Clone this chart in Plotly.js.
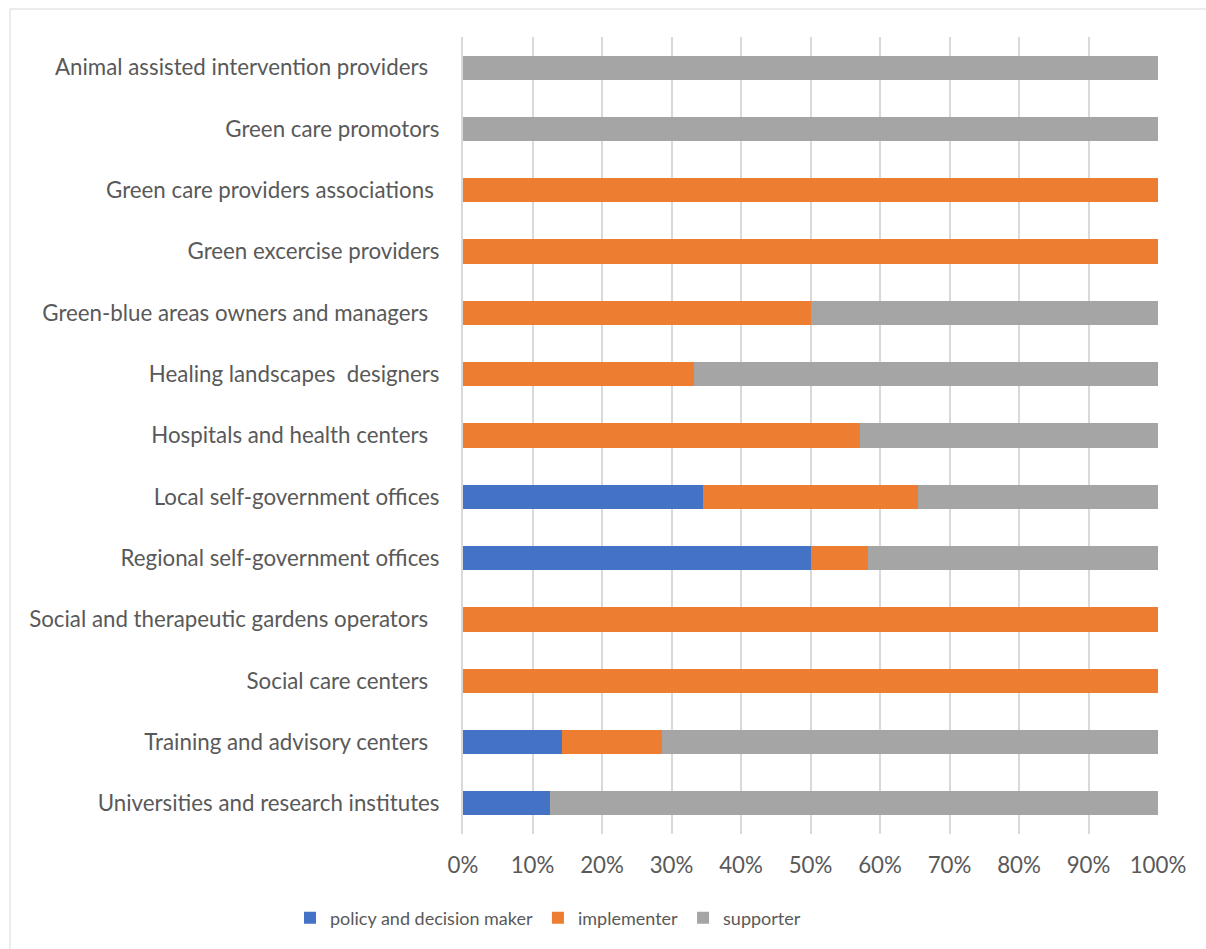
<!DOCTYPE html>
<html>
<head>
<meta charset="utf-8">
<script src="https://cdn.plot.ly/plotly-3.0.1.min.js"></script>
<style>
  html, body { margin: 0; padding: 0; background: #ffffff; }
  #chart { width: 1206px; height: 949px; }
</style>
</head>
<body>
<div id="chart"></div>
<script>
// Categories, top to bottom
const categories = [
  "Animal assisted intervention providers\u00a0\u00a0",
  "Green care promotors",
  "Green care providers associations\u00a0",
  "Green excercise providers",
  "Green-blue areas owners and managers\u00a0\u00a0",
  "Healing landscapes\u00a0\u00a0designers",
  "Hospitals and health centers\u00a0\u00a0",
  "Local self-government offices",
  "Regional self-government offices",
  "Social and therapeutic gardens operators\u00a0\u00a0",
  "Social care centers\u00a0\u00a0",
  "Training and advisory centers\u00a0\u00a0",
  "Universities and research institutes"
];

// Shares (%) per role
const policyDecisionMaker = [0, 0, 0, 0, 0, 0, 0, 34.6, 50.0, 0, 0, 14.3, 12.5];
const implementer         = [0, 0, 100, 100, 50.0, 33.3, 57.1, 30.8, 8.3, 100, 100, 14.3, 0];
const supporter           = [100, 100, 0, 0, 50.0, 66.7, 42.9, 34.6, 41.7, 0, 0, 71.4, 87.5];

const seriesNames = ["policy and decision maker", "implementer", "supporter"];
const tickValues = [0, 10, 20, 30, 40, 50, 60, 70, 80, 90, 100];

const colors = ["#4472C4", "#ED7D31", "#A5A5A5"];
const seriesValues = [policyDecisionMaker, implementer, supporter];

const traces = seriesValues.map((vals, i) => ({
  type: "bar",
  orientation: "h",
  name: seriesNames[i],
  y: categories,
  x: vals,
  marker: { color: colors[i], line: { width: 0 } },
  hoverinfo: "x+y+name"
}));

const textColor = "#595959";
const fontFamily = "Lato, 'Noto Sans', sans-serif";

// pixel helpers for the border frame (paper coords)
const L = 463, R = 48, T = 37, B = 115, W = 1206, H = 949;
const pw = W - L - R, ph = H - T - B;
const px = v => (v - L) / pw;
const py = v => (H - B - v) / ph;

const layout = {
  width: W,
  height: H,
  margin: { l: L, r: R, t: T, b: B, pad: 0 },
  barmode: "stack",
  bargap: 0.605,
  paper_bgcolor: "#ffffff",
  plot_bgcolor: "#ffffff",
  font: { family: fontFamily, size: 22.3, color: textColor },
  showlegend: true,
  legend: {
    orientation: "h",
    x: px(290),
    xanchor: "left",
    y: py(918),
    yanchor: "middle",
    font: { family: fontFamily, size: 18, color: textColor },
    traceorder: "normal",
    itemclick: false
  },
  xaxis: {
    range: [0, 100],
    tickvals: tickValues,
    ticktext: tickValues.map(v => v + "%"),
    showgrid: true,
    gridcolor: "#d9d9d9",
    gridwidth: 2,
    zeroline: false,
    showline: false,
    ticks: "",
    ticklabelstandoff: 16,
    tickfont: { family: fontFamily, size: 22.3, color: textColor },
    fixedrange: true
  },
  yaxis: {
    type: "category",
    categoryorder: "array",
    categoryarray: categories,
    autorange: "reversed",
    showgrid: false,
    zeroline: false,
    showline: true,
    linecolor: "#d9d9d9",
    linewidth: 2,
    ticks: "",
    ticklabelstandoff: 17,
    tickfont: { family: fontFamily, size: 22.3, color: textColor },
    fixedrange: true
  },
  shapes: [{
    type: "rect",
    xref: "paper", yref: "paper",
    x0: px(10), x1: px(1220),
    y0: py(962), y1: py(9),
    line: { color: "#d9d9d9", width: 1 },
    fillcolor: "rgba(0,0,0,0)",
    layer: "below"
  }]
};

Plotly.newPlot("chart", traces, layout, { displayModeBar: false, staticPlot: true });
</script>
</body>
</html>
